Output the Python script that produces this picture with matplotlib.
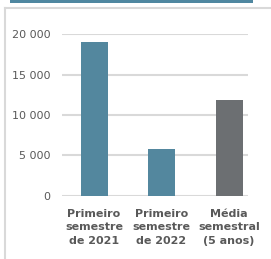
import matplotlib.pyplot as plt
from matplotlib.patches import Rectangle
from matplotlib.lines import Line2D

categories = ['Primeiro\nsemestre\nde 2021', 'Primeiro\nsemestre\nde 2022', 'Média\nsemestral\n(5 anos)']
values = [19000, 5750, 11800]
colors = ['#53879e', '#53879e', '#6c6f72']
yticks = [0, 5000, 10000, 15000, 20000]
ytick_labels = ['0', '5 000', '10 000', '15 000', '20 000']

fig = plt.figure(figsize=(2.71, 2.59), dpi=100)

# frame decoration: blue strip on top, light gray border
fig.patches.append(Rectangle((10 / 271, 1 - 3 / 259), 243 / 271, 3 / 259,
                             transform=fig.transFigure, color='#4f87a0', lw=0))
fig.lines.append(Line2D([5 / 271, 5 / 271], [0, 1 - 8 / 259],
                        transform=fig.transFigure, color='#d9d9d9', lw=1.5))
fig.lines.append(Line2D([5 / 271, 1], [1 - 8 / 259, 1 - 8 / 259],
                        transform=fig.transFigure, color='#d9d9d9', lw=1.5))

ax = fig.add_axes([62 / 271, 1 - 195.5 / 259, 186 / 271, 161.2 / 259])
x = list(range(len(categories)))
ax.bar(x, values, width=0.4, color=colors, zorder=3)

ax.set_ylim(0, 20000)
ax.set_xlim(-0.474, 2.28)
ax.set_yticks(yticks)
ax.set_yticklabels(ytick_labels, fontsize=8, color='#595959')
ax.set_xticks(x)
ax.set_xticklabels(categories, fontsize=8, fontweight='bold', color='#595959',
                   linespacing=1.45)
ax.tick_params(axis='both', length=0)
ax.tick_params(axis='y', pad=8.5)
ax.tick_params(axis='x', pad=9.5)
ax.grid(axis='y', color='#d9d9d9', lw=1.5, zorder=0)
for s in ax.spines.values():
    s.set_visible(False)

plt.savefig('out.png', dpi=100)
